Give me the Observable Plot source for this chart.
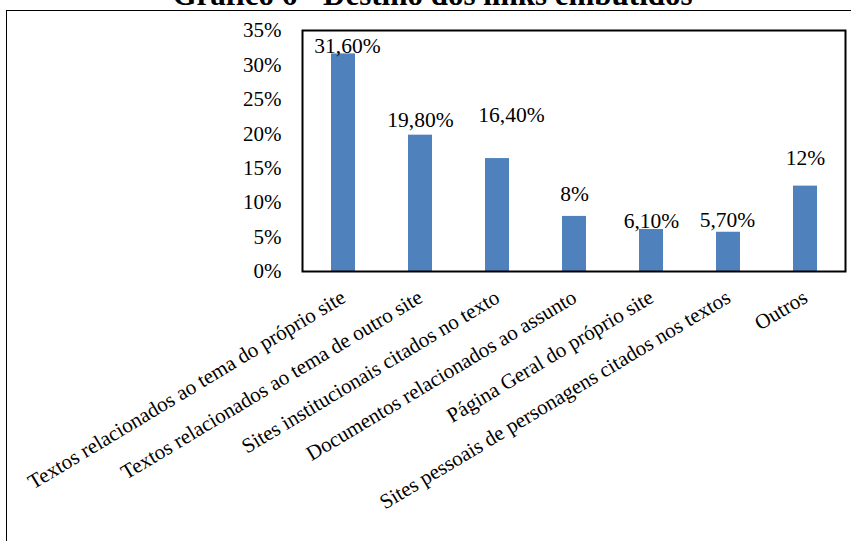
<!DOCTYPE html>
<html>
<head>
<meta charset="utf-8">
<script src="https://cdn.jsdelivr.net/npm/d3@7"></script>
<script src="https://cdn.jsdelivr.net/npm/@observablehq/plot@0.6"></script>
<style>
  html, body { margin: 0; padding: 0; background: #fff; }
  #wrap { position: relative; width: 851px; height: 541px; overflow: hidden; font-family: "Liberation Serif", "Times New Roman", serif; }
  #title { position: absolute; left: 0; width: 865px; top: -21px; text-align: center; font-weight: bold; font-size: 31px; line-height: 31px; color: #000; white-space: nowrap; font-family: "Liberation Serif", "Times New Roman", serif; }
  #border { position: absolute; left: 6px; top: 10px; width: 900px; height: 600px; border-left: 1.5px solid #000; border-top: 1.5px solid #000; }
  #chart { position: absolute; left: 0; top: 0; }
  #chart svg, #chart svg text { font-family: "Liberation Serif", "Times New Roman", serif !important; }
</style>
</head>
<body>
<div id="wrap">
  <div id="border"></div>
  <div id="title">Gráfico 6 - Destino dos links embutidos</div>
  <div id="chart"></div>
</div>
<script>
const categories = [
  "Textos relacionados ao tema do próprio site",
  "Textos relacionados ao tema de outro site",
  "Sites institucionais citados no texto",
  "Documentos relacionados ao assunto",
  "Página Geral do próprio site",
  "Sites pessoais de personagens citados nos textos",
  "Outros"
];
const values = [31.6, 19.8, 16.4, 8, 6.1, 5.7, 12.4];
const valueLabels = ["31,60%", "19,80%", "16,40%", "8%", "6,10%", "5,70%", "12%"];
const yTicks = [0, 5, 10, 15, 20, 25, 30, 35];

// label placement offsets (pixels) as in the original figure
const labelDx = [4, 0, 14, 0, 0, -1, 0];
const labelDy = [-8, -15, -43, -22, -8, -12, -28];

const data = categories.map((c, i) => ({cat: c, v: values[i], label: valueLabels[i], dx: labelDx[i], dy: labelDy[i]}));
const FONT = "'Liberation Serif', 'Times New Roman', serif";

const chart = Plot.plot({
  width: 851,
  height: 541,
  marginLeft: 302,
  marginRight: 6,
  marginTop: 30,
  marginBottom: 270,
  style: {fontFamily: FONT, fontSize: "21px", color: "#000", background: "transparent", overflow: "visible"},
  x: {domain: categories, paddingInner: 0.69, paddingOuter: 0.345},
  y: {domain: [0, 35]},
  marks: [
    Plot.barY(data, {x: "cat", y: "v", fill: "#4f81bd"}),
    ...data.map(d => Plot.text([d], {x: "cat", y: "v", text: "label", dx: d.dx, dy: d.dy, fontSize: 21.5, fontFamily: FONT, fill: "#000"})),
    Plot.axisY({ticks: yTicks, tickFormat: d => d + "%", tickSize: 0, tickPadding: 21, fontSize: 21, fontFamily: FONT, label: null}),
    Plot.axisX({tickSize: 0, tickRotate: -31, tickPadding: 24, fontSize: 21, fontFamily: FONT, label: null}),
    Plot.frame({stroke: "#000", strokeWidth: 2})
  ]
});
document.getElementById("chart").appendChild(chart);
</script>
</body>
</html>
